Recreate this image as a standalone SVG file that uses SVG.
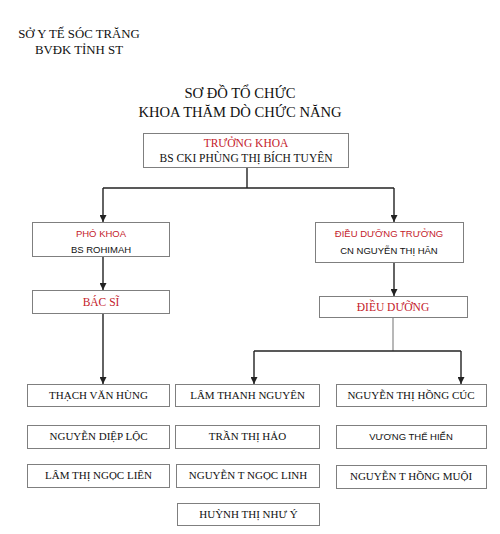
<svg xmlns="http://www.w3.org/2000/svg" width="500" height="534" viewBox="0 0 500 534">
<style>
.bg{fill:#ffffff}
.box{fill:#ffffff;stroke:#7f7f7f;stroke-width:1}
.serif{font-family:"Liberation Serif","Times New Roman",serif;fill:#111}
.sans{font-family:"Liberation Sans",Arial,sans-serif;fill:#111}
.red{fill:#c4212b}
.hdr{font-size:12.8px}
.ttl{font-size:14.6px}
.t1{font-size:11.5px}
.t2{font-size:11px}
.s1{font-size:9.5px}
.c{text-anchor:middle}
.line{fill:none;stroke:#222;stroke-width:1.4}
.gline{fill:none;stroke:#9a9a9a;stroke-width:1.4}
</style>
<defs>
<marker id="arr" markerUnits="userSpaceOnUse" markerWidth="8" markerHeight="8" viewBox="0 0 8 8" refX="4" refY="8" orient="auto-start-reverse">
<path d="M0,0 L8,0 L4,8 Z" fill="#222" transform="rotate(-90 4 4)"/>
</marker>
<marker id="ad" markerUnits="userSpaceOnUse" markerWidth="7" markerHeight="7" viewBox="0 0 7 7" refX="3.5" refY="7" orient="0">
<path d="M0,0 L7,0 L3.5,7 Z" fill="#222"/>
</marker>
</defs>
<rect class="bg" x="0" y="0" width="500" height="534"/>

<text class="serif hdr c" x="79" y="38">SỞ Y TẾ SÓC TRĂNG</text>
<text class="serif hdr c" x="79" y="54">BVĐK TỈNH ST</text>
<text class="serif ttl c" x="240" y="98">SƠ ĐỒ TỔ CHỨC</text>
<text class="serif ttl c" x="240" y="117">KHOA THĂM DÒ CHỨC NĂNG</text>

<g id="connectors">
<path class="line" d="M247,167 V188"/>
<path class="line" d="M103,188 H394"/>
<path class="line" d="M103,188 V222" marker-end="url(#ad)"/>
<path class="line" d="M394,188 V222" marker-end="url(#ad)"/>
<path class="line" d="M103,256 V290" marker-end="url(#ad)"/>
<path class="line" d="M394,262 V296" marker-end="url(#ad)"/>
<path class="line" d="M103,313 V384" marker-end="url(#ad)"/>
<path class="gline" d="M393,317 V351"/>
<path class="line" d="M254,351 H461"/>
<path class="line" d="M254,351 V384" marker-end="url(#ad)"/>
<path class="line" d="M461,351 V384" marker-end="url(#ad)"/>
</g>

<g id="truong-khoa">
<rect class="box" x="143.5" y="133.5" width="205" height="34"/>
<text class="serif t1 c red" x="246" y="147">TRƯỞNG KHOA</text>
<text class="serif t1 c" x="246" y="162">BS CKI PHÙNG THỊ BÍCH TUYÊN</text>
</g>

<g id="pho-khoa">
<rect class="box" x="32.5" y="222.5" width="137" height="34"/>
<text class="sans s1 c red" x="101" y="237">PHÓ KHOA</text>
<text class="sans s1 c" x="101" y="253">BS ROHIMAH</text>
</g>

<g id="bac-si">
<rect class="box" x="32.5" y="290.5" width="137" height="23"/>
<text class="serif t1 c red" x="101" y="306">BÁC SĨ</text>
</g>

<g id="dieu-duong-truong">
<rect class="box" x="315.5" y="222.5" width="148" height="40"/>
<text class="sans s1 c red" x="389" y="237">ĐIỀU DƯỠNG TRƯỞNG</text>
<text class="sans s1 c" x="389" y="254">CN NGUYỄN THỊ HÂN</text>
</g>

<g id="dieu-duong">
<rect class="box" x="319.5" y="296.5" width="148" height="21"/>
<text class="serif t1 c red" x="393" y="311">ĐIỀU DƯỠNG</text>
</g>

<g id="thach-van-hung">
<rect class="box" x="27.5" y="384.5" width="142" height="22"/>
<text class="serif t2 c" x="98.5" y="399">THẠCH VĂN HÙNG</text>
</g>
<g id="nguyen-diep-loc">
<rect class="box" x="27.5" y="425.5" width="142" height="23"/>
<text class="serif t2 c" x="98.5" y="440">NGUYỄN DIỆP LỘC</text>
</g>
<g id="lam-thi-ngoc-lien">
<rect class="box" x="27.5" y="464.5" width="142" height="23"/>
<text class="serif t2 c" x="98.5" y="479">LÂM THỊ NGỌC LIÊN</text>
</g>

<g id="lam-thanh-nguyen">
<rect class="box" x="175.5" y="384.5" width="144" height="22"/>
<text class="serif t2 c" x="247.5" y="399">LÂM THANH NGUYÊN</text>
</g>
<g id="tran-thi-hao">
<rect class="box" x="175.5" y="425.5" width="144" height="23"/>
<text class="serif t2 c" x="247.5" y="440">TRẦN THỊ HẢO</text>
</g>
<g id="nguyen-t-ngoc-linh">
<rect class="box" x="176.5" y="464.5" width="143" height="23"/>
<text class="serif t2 c" x="248" y="479">NGUYỄN T NGỌC LINH</text>
</g>
<g id="huynh-thi-nhu-y">
<rect class="box" x="177.5" y="503.5" width="142" height="22"/>
<text class="serif t2 c" x="248.5" y="518">HUỲNH THỊ NHƯ Ý</text>
</g>

<g id="nguyen-thi-hong-cuc">
<rect class="box" x="336.5" y="384.5" width="150" height="22"/>
<text class="serif t2 c" x="411" y="399">NGUYỄN THỊ HỒNG CÚC</text>
</g>
<g id="vuong-the-hien">
<rect class="box" x="336.5" y="425.5" width="150" height="23"/>
<text class="sans s1 c" x="411" y="440">VƯƠNG THẾ HIỂN</text>
</g>
<g id="nguyen-t-hong-muoi">
<rect class="box" x="336.5" y="465.5" width="150" height="23"/>
<text class="serif t2 c" x="411" y="480">NGUYỄN T HỒNG MUỘI</text>
</g>
</svg>
